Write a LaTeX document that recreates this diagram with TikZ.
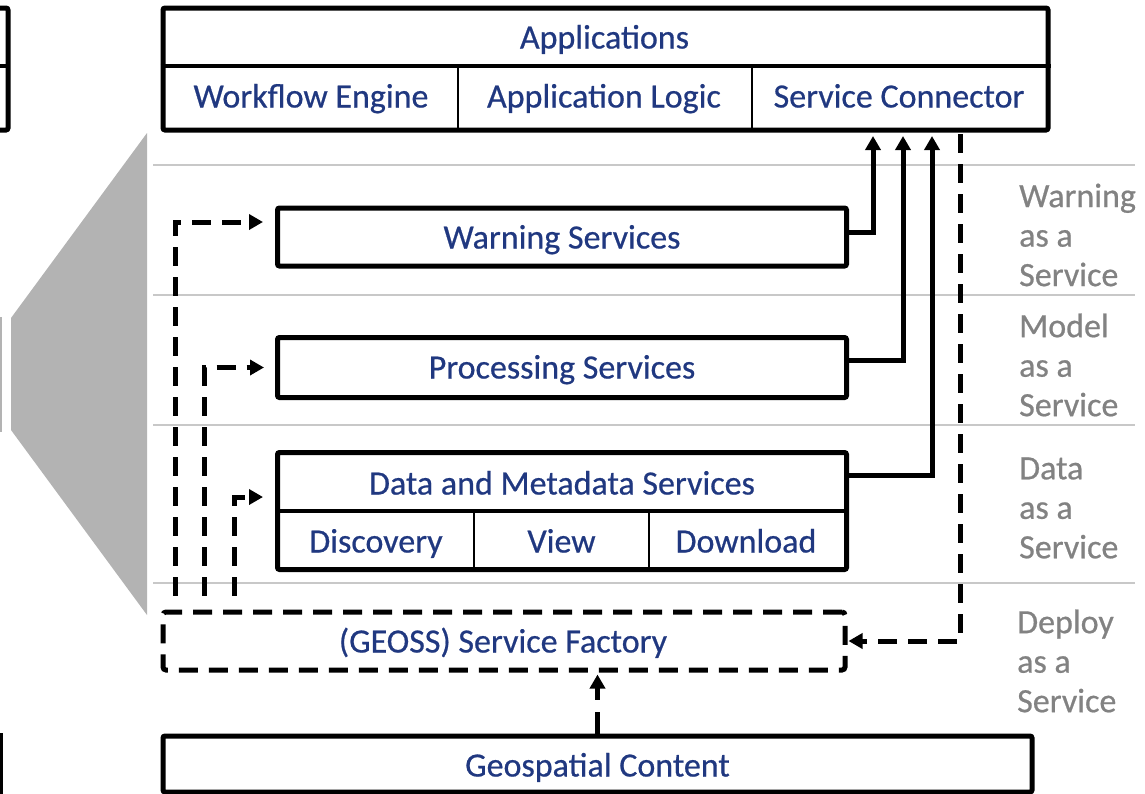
\documentclass[tikz,border=0pt]{standalone}
\usepackage{fontspec}
\setmainfont{Carlito}
\newfontfamily\heavyfont[FakeBold=0.6]{Carlito}
\usetikzlibrary{arrows.meta}
\definecolor{navy}{RGB}{32,56,128}
\definecolor{lbgray}{RGB}{130,130,130}
\definecolor{rulegray}{RGB}{200,200,200}
\definecolor{fangray}{RGB}{179,179,179}
\tikzset{
  box/.style={draw, line width=5pt, rounded corners=2pt, inner sep=0pt},
  dbox/.style={draw, line width=5pt, rounded corners=3pt, inner sep=0pt, dash pattern=on 19pt off 11pt},
  txt/.style={inner sep=0pt, text=navy, font=\heavyfont\fontsize{34}{40}\selectfont, text height=22pt, text depth=7pt},
  side/.style={inner sep=0pt, text=lbgray, anchor=west, align=left, font=\heavyfont\fontsize{34}{39.5}\selectfont},
  hdiv/.style={line width=4.5pt},
  vdiv/.style={line width=2.2pt},
  conn/.style={line width=5pt, -{Triangle[length=14pt,width=15pt]}},
  dconn/.style={line width=5pt, dash pattern=on 19pt off 11pt, -{Triangle[length=14pt,width=15pt]}},
  rule/.style={line width=1.5pt, draw=rulegray}
}
\begin{document}
\begin{tikzpicture}[x=1pt,y=-1pt]
\useasboundingbox (0,0) rectangle (1145,793);

% partial boxes at the left edge
\draw[line width=5pt, rounded corners=2pt] (-20,8) -- (8,8) -- (8,130) -- (-20,130);
\draw[hdiv] (-20,66) -- (8,66);
\draw[line width=2.5pt, draw=fangray] (1,317) -- (1,432);
\draw[line width=4.5pt] (1,733) -- (1,800);

% gray fan
\fill[fangray] (147,133) -- (11,318) -- (11,430) -- (147,615) -- cycle;

% horizontal rules
\foreach \yy in {165,295,425,583} \draw[rule] (153,\yy) -- (1135,\yy);

% Applications
\node[box, minimum width=885pt, minimum height=122pt] (apps) at (605.5,69) {};
\draw[hdiv] (apps.west |- 0,66) -- (apps.east |- 0,66);
\draw[vdiv] (458,66) -- (458,130);
\draw[vdiv] (752,66) -- (752,130);
\node[txt] (appT) at (604.5,41) {Applications};
\node[txt] (wf) at (311,100) {Workflow Engine};
\node[txt] (al) at (604,100) {Application Logic};
\node[txt] (sc) at (899,100) {Service Connector};
\coordinate (scb) at (900,130);

% Warning Services
\node[box, minimum width=569pt, minimum height=58pt] (ws) at (562,237) {};
\node[txt] (wsT) at (562,241) {Warning Services};

% Processing Services
\node[box, minimum width=569pt, minimum height=60pt] (ps) at (562,367.5) {};
\node[txt] (psT) at (562,371) {Processing Services};

% Data and Metadata Services
\node[box, minimum width=569pt, minimum height=117pt] (dm) at (562,511) {};
\draw[hdiv] (dm.west |- 0,511) -- (dm.east |- 0,511);
\draw[vdiv] (474,511) -- (474,570);
\draw[vdiv] (649,511) -- (649,570);
\node[txt] (dmT) at (562,487) {Data and Metadata Services};
\node[txt] (disc) at (376,545) {Discovery};
\node[txt] (view) at (561.5,545) {View};
\node[txt] (down) at (746,545) {Download};

% Service Factory
\node[dbox, minimum width=682pt, minimum height=58pt] (fac) at (504,641) {};
\node[txt] (facT) at (503,645) {(GEOSS) Service Factory};

% Geospatial Content
\node[box, minimum width=869pt, minimum height=56pt] (geo) at (597.5,764) {};
\node[txt] (geoT) at (597.5,769) {Geospatial Content};

% side labels
\node[side] (l1) at (1019,235) {Warning\\as a\\Service};
\node[side] (l2) at (1019,365) {Model\\as a\\Service};
\node[side] (l3) at (1019,508) {Data\\as a\\Service};
\node[side] (l4) at (1017,661) {Deploy\\as a\\Service};

% connectors to the Service Connector
\draw[conn] ([yshift=5pt]ws.east) -| ([xshift=-27pt,yshift=-6pt]scb);
\draw[conn] ([yshift=7pt]ps.east) -| ([xshift=3pt,yshift=-6pt]scb);
\draw[conn] ([yshift=36pt]dm.east) -| ([xshift=32pt,yshift=-6pt]scb);

% deploy path
\draw[dconn, shorten >=1pt] ([xshift=60pt,yshift=-4pt]scb) |- (fac.east);
\draw[dconn, shorten >=12pt] ([xshift=15pt,yshift=14pt]fac.north west) |- ([yshift=15pt]ws.west);
\draw[dconn, shorten >=11pt] ([xshift=44pt,yshift=14pt]fac.north west) |- (ps.west);
\draw[dconn, shorten >=12pt] ([xshift=74pt,yshift=14pt]fac.north west) |- ([yshift=14pt]dm.west);
\draw[dconn, shorten >=2pt, dash pattern=on 22pt off 12pt] (geo.north) -- (geo.north |- fac.south);
\end{tikzpicture}
\end{document}
